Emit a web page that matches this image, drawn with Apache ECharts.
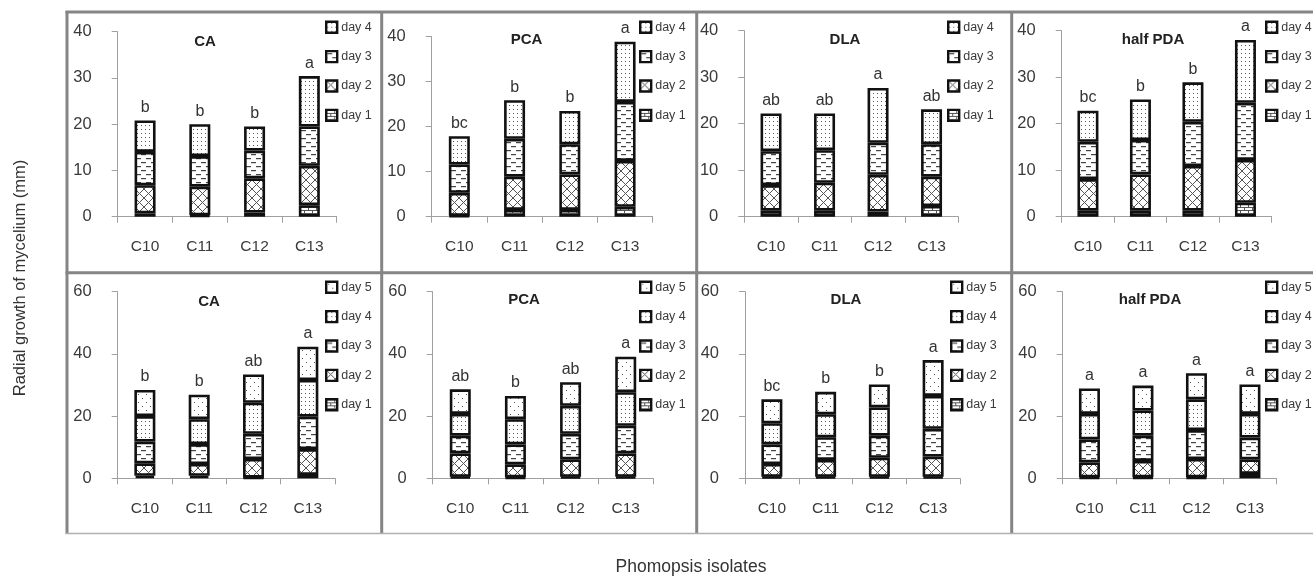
<!DOCTYPE html>
<html>
<head>
<meta charset="utf-8">
<script src="https://cdn.jsdelivr.net/npm/echarts@6/dist/echarts.min.js"></script>
<style>
  html, body { margin: 0; padding: 0; background: #fff; }
  #chart { width: 1313px; height: 579px; }
</style>
</head>
<body>
<div id="chart"></div>
<script>
// ---------- data ----------
const isolates = ['C10', 'C11', 'C12', 'C13'];
const dayNames = ['day 1', 'day 2', 'day 3', 'day 4', 'day 5'];
const media = ['CA', 'PCA', 'DLA', 'half PDA'];

// top row: 4-day readings, one array per day (C10..C13), mm added that day
const top_CA  = [[0.7, 0.3, 0.9, 2.5], [6.1, 6.2, 7.4, 8.5], [7.2, 6.6, 6.0, 8.5], [6.8, 6.9, 5.2, 10.9]];
const top_PCA = [[0.2, 1.5, 1.5, 2.2], [5.1, 7.4, 7.9, 10.2], [6.3, 8.4, 6.7, 13.1], [6.3, 8.6, 7.4, 13.4]];
const top_DLA = [[1.3, 1.3, 1.1, 2.3], [5.5, 6.0, 7.9, 6.3], [7.3, 7.0, 6.9, 7.0], [8.1, 7.9, 11.8, 7.5]];
const top_PDA = [[1.3, 1.3, 1.3, 3.0], [6.8, 7.8, 9.6, 9.2], [8.0, 7.4, 9.5, 12.3], [6.7, 8.7, 8.5, 13.5]];

// bottom row: 5-day readings
const bot_CA  = [[0.8, 0.8, 0.2, 1.1], [4.0, 3.8, 6.0, 8.3], [7.0, 6.4, 8.1, 10.4], [8.2, 8.0, 10.0, 11.8], [8.4, 7.9, 9.1, 10.7]];
const bot_PCA = [[0.5, 0.3, 0.5, 0.5], [7.5, 4.2, 5.6, 7.5], [5.7, 6.4, 8.2, 8.9], [7.0, 8.1, 9.0, 10.8], [7.9, 7.5, 7.6, 11.4]];
const bot_DLA = [[0.5, 0.5, 0.5, 0.5], [4.1, 5.4, 6.1, 6.5], [6.3, 7.3, 7.1, 8.9], [6.8, 7.4, 9.1, 10.6], [7.7, 7.2, 7.4, 11.5]];
const bot_PDA = [[0.3, 0.3, 0.3, 1.4], [4.8, 5.3, 5.9, 4.7], [7.4, 8.1, 9.3, 7.0], [8.2, 8.1, 9.9, 7.6], [8.2, 8.0, 8.4, 9.5]];

// significance letters above each bar
const top_letters = [['b', 'b', 'b', 'a'], ['bc', 'b', 'b', 'a'], ['ab', 'ab', 'a', 'ab'], ['bc', 'b', 'b', 'a']];
const bot_letters = [['b', 'b', 'ab', 'a'], ['ab', 'b', 'ab', 'a'], ['bc', 'b', 'b', 'a'], ['a', 'a', 'a', 'a']];

const yMaxTop = 40, yStepTop = 10;
const yMaxBot = 60, yStepBot = 20;

// ---------- layout (px) ----------
// [gridLeft, gridTop, gridWidth, gridHeight, titleX, titleY, legendX, legendY]
const layout = [
  [117.7, 31.7, 219, 185, 205, 41.5, 325, 20.5],
  [431.7, 36.7, 221, 180, 526.5, 39.5, 639, 20.5],
  [744.3, 30.7, 214, 186, 845, 39.5, 947, 20.5],
  [1061.7, 30.7, 210, 186, 1153, 39.5, 1265, 20.5],
  [117.7, 291.7, 217.3, 186.6, 209, 301.5, 325, 280.5],
  [432.7, 291.7, 220.6, 186.6, 524, 300, 639, 280.5],
  [745, 291.7, 215, 186.6, 846, 300, 950, 280.5],
  [1062.7, 291.7, 214, 186.6, 1150, 300, 1265, 280.5]
];
const FONT = '"Liberation Sans", Arial, sans-serif';

// ---------- fill patterns ----------
function tile(w, h, draw) {
  const c = document.createElement('canvas');
  c.width = w; c.height = h;
  const g = c.getContext('2d');
  g.fillStyle = '#fff';
  g.fillRect(0, 0, w, h);
  g.strokeStyle = '#555';
  g.fillStyle = '#444';
  g.lineWidth = 1;
  draw(g);
  return { image: c, repeat: 'repeat' };
}
const patterns = [
  // day 1: brick
  tile(8, 6, g => {
    g.beginPath();
    g.moveTo(0, 0.5); g.lineTo(8, 0.5);
    g.moveTo(0, 3.5); g.lineTo(8, 3.5);
    g.moveTo(0.5, 0); g.lineTo(0.5, 3.5);
    g.moveTo(4.5, 3.5); g.lineTo(4.5, 6);
    g.stroke();
  }),
  // day 2: cross hatch
  tile(9, 9, g => {
    g.beginPath();
    g.moveTo(0, 0); g.lineTo(9, 9);
    g.moveTo(9, 0); g.lineTo(0, 9);
    g.stroke();
  }),
  // day 3: staggered dashes
  tile(10, 8, g => {
    g.fillRect(1, 2, 5, 1.2);
    g.fillRect(6, 6, 4, 1.2);
    g.fillRect(0, 6, 1, 1.2);
  }),
  // day 4: dense dots
  tile(4, 4, g => { g.fillStyle = '#555'; g.fillRect(1, 1, 1, 1); }),
  // day 5: sparse dots
  tile(8, 8, g => { g.fillStyle = '#555'; g.fillRect(2, 2, 1, 1); g.fillRect(6, 6, 1, 1); })
];

// ---------- build option ----------
const panels = [
  { days: top_CA, letters: top_letters[0], max: yMaxTop, step: yStepTop },
  { days: top_PCA, letters: top_letters[1], max: yMaxTop, step: yStepTop },
  { days: top_DLA, letters: top_letters[2], max: yMaxTop, step: yStepTop },
  { days: top_PDA, letters: top_letters[3], max: yMaxTop, step: yStepTop },
  { days: bot_CA, letters: bot_letters[0], max: yMaxBot, step: yStepBot },
  { days: bot_PCA, letters: bot_letters[1], max: yMaxBot, step: yStepBot },
  { days: bot_DLA, letters: bot_letters[2], max: yMaxBot, step: yStepBot },
  { days: bot_PDA, letters: bot_letters[3], max: yMaxBot, step: yStepBot }
];

const grid = [], xAxis = [], yAxis = [], series = [], legend = [], graphic = [];
const axisGrey = '#a0a0a0';

panels.forEach((p, i) => {
  const L = layout[i];
  grid.push({ left: L[0], top: L[1], width: L[2], height: L[3] });
  xAxis.push({
    type: 'category', gridIndex: i, data: isolates,
    axisLine: { lineStyle: { color: axisGrey, width: 1 } },
    axisTick: { show: true, length: 6, lineStyle: { color: axisGrey } },
    axisLabel: { margin: 22, fontSize: 15.5, color: '#3a3a3a', fontFamily: FONT }
  });
  yAxis.push({
    type: 'value', gridIndex: i, min: 0, max: p.max, interval: p.step,
    axisLine: { show: true, lineStyle: { color: axisGrey, width: 1 } },
    axisTick: { show: true, length: 6, lineStyle: { color: axisGrey } },
    splitLine: { show: false },
    axisLabel: { margin: 26, fontSize: 16.5, color: '#3a3a3a', fontFamily: FONT }
  });
  const n = p.days.length;
  p.days.forEach((vals, d) => {
    const s = {
      type: 'bar', name: dayNames[d], xAxisIndex: i, yAxisIndex: i,
      stack: 'p' + i, barWidth: 21, data: vals,
      itemStyle: { color: patterns[d], borderColor: '#111', borderWidth: 2.6 }
    };
    if (d === n - 1) {
      s.label = {
        show: true, position: 'top', distance: 5, fontSize: 16, color: '#333', fontFamily: FONT,
        formatter: prm => p.letters[prm.dataIndex]
      };
    }
    series.push(s);
  });
  legend.push({
    orient: 'vertical', left: L[6], top: L[7], padding: 0,
    itemWidth: 11, itemHeight: 11, itemGap: 16, icon: 'rect', selectedMode: false,
    itemStyle: { borderColor: '#111', borderWidth: 2.4 },
    textStyle: { fontSize: 12.5, color: '#3a3a3a', fontFamily: FONT, padding: [0, 0, 0, -1] },
    data: dayNames.slice(0, n).reverse()
  });
  graphic.push({
    type: 'text', x: L[4], y: L[5],
    style: { text: media[i % 4], font: 'bold 15px ' + FONT, fill: '#222', textAlign: 'center', textVerticalAlign: 'middle' }
  });
});

// panel frame
const frameCol = '#858585';
const vx = [67, 381.7, 696.7, 1011.7];
vx.forEach(x => graphic.push({ type: 'line', shape: { x1: x, y1: 11, x2: x, y2: 534 }, style: { stroke: frameCol, lineWidth: 3 } }));
graphic.push({ type: 'line', shape: { x1: 65.5, y1: 12, x2: 1313, y2: 12 }, style: { stroke: frameCol, lineWidth: 3 } });
graphic.push({ type: 'line', shape: { x1: 65.5, y1: 272.7, x2: 1313, y2: 272.7 }, style: { stroke: frameCol, lineWidth: 3 } });
graphic.push({ type: 'line', shape: { x1: 65.5, y1: 533.5, x2: 1313, y2: 533.5 }, style: { stroke: '#b0b0b0', lineWidth: 1.5 } });

// axis titles
graphic.push({
  type: 'text', x: 20, y: 278, rotation: Math.PI / 2,
  style: { text: 'Radial growth of mycelium (mm)', font: '16.5px ' + FONT, fill: '#333', textAlign: 'center', textVerticalAlign: 'middle' }
});
graphic.push({
  type: 'text', x: 691, y: 567,
  style: { text: 'Phomopsis isolates', font: '17.5px ' + FONT, fill: '#333', textAlign: 'center', textVerticalAlign: 'middle' }
});

const chart = echarts.init(document.getElementById('chart'), null, { renderer: 'canvas' });
chart.setOption({
  animation: false,
  backgroundColor: '#fff',
  textStyle: { fontFamily: FONT },
  grid, xAxis, yAxis, series, legend, graphic
});
</script>
</body>
</html>
